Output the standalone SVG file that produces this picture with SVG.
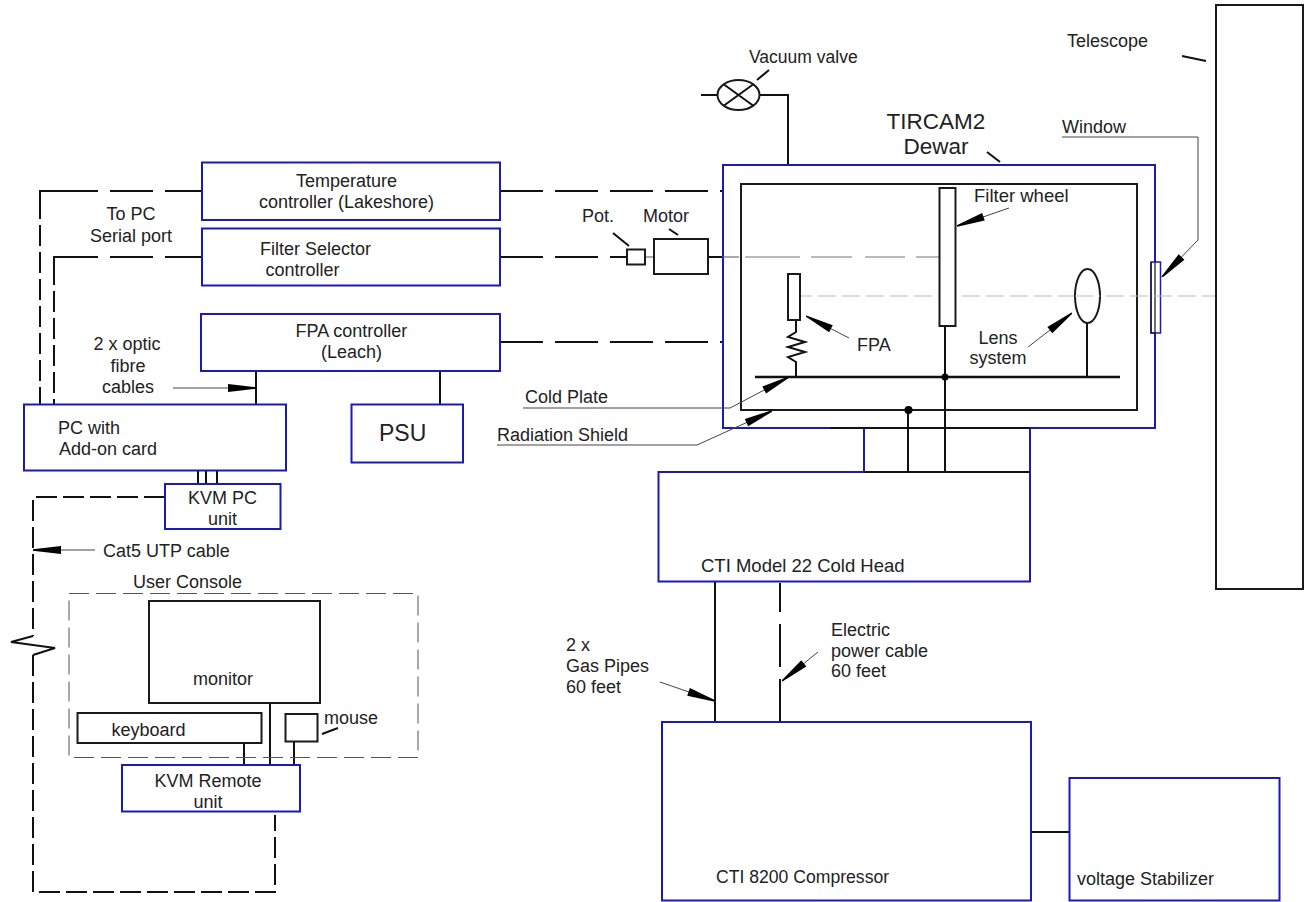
<svg xmlns="http://www.w3.org/2000/svg" width="1304" height="902" viewBox="0 0 1304 902">
<style>
text{font-family:"Liberation Sans",Arial,sans-serif;font-size:18px;fill:#222}
.m{text-anchor:middle}
.b{fill:#fff;stroke:#1a1ab8;stroke-width:2}
.k{fill:#fff;stroke:#1a1a1a;stroke-width:2}
.l{fill:none;stroke:#111;stroke-width:2}
.d{fill:none;stroke:#111;stroke-width:2;stroke-dasharray:21 6}
.t{fill:none;stroke:#555;stroke-width:1}
.a{fill:none;stroke:#444;stroke-width:1;marker-end:url(#h)}
.f{fill:none;stroke:#555;stroke-width:1;stroke-dasharray:20 7}
.c{fill:none;stroke:#bbb;stroke-width:1.2;stroke-dasharray:18 6}
</style>
<defs>
<marker id="h" viewBox="0 0 30 9" refX="30" refY="4.500" markerWidth="30" markerHeight="9" markerUnits="userSpaceOnUse" orient="auto"><path d="M2,0.500L30,3.800V5.200L2,8.500z" fill="#000"/></marker>
</defs>
<rect width="1304" height="902" fill="#fff"/>

<g id="connectors">
<path class="l" d="M202,191H165M153,191H110M98,191H40V198"/>
<path class="d" d="M40,198V404"/>
<path class="l" d="M202,257H165M153,257H110M98,257H54V264"/>
<path class="d" d="M54,264V404"/>
<path class="l" d="M500,191H543M555,191H598M610,191H653M665,191H708M720,191H723"/>
<path class="l" d="M500,257H543M555,257H598M610,257H627"/>
<path class="l" d="M500,342H543M555,342H598M610,342H653M665,342H708M720,342H723"/>
<path class="t" d="M645,257H654"/>
<path class="l" d="M708,257H722"/>
<path class="l" d="M256,371V404M440,371V404"/>
<path class="l" d="M198,471V484M206,471V484M217,471V484"/>
<path class="d" d="M165,497H33V636"/>
<path class="l" d="M33,636L11,642L55,648L33,655"/>
<path class="d" d="M33,655V892H275V815"/>
<path class="l" d="M244,743V765M270,703V765M294,741V765"/>
<path class="l" d="M701,95H717M760,95H788V165"/>
<path class="l" d="M757,80L769,70"/>
<path class="l" d="M987,152L1000,162"/>
<path class="l" d="M1182,56L1206,61"/>
<path class="l" d="M613,233L629,246M669,229L678,235M322,734L338,728"/>
<path class="l" d="M715,582V722"/>
<path class="l" d="M780,583V612M780,624V667M780,679V722"/>
<path class="l" d="M1031,832H1070"/>
</g>

<g id="telescope"><rect class="k" x="1216" y="5" width="87" height="584"/><text x="1067" y="47">Telescope</text></g>

<g id="dewar">
<rect class="b" x="723" y="165" width="432" height="263"/>
<path class="l" d="M830,428H1030"/>
<rect class="k" x="741" y="184" width="396" height="226"/>
<text class="m" x="936" y="129" style="font-size:22.500px">TIRCAM2</text>
<text class="m" x="936" y="154" style="font-size:22.500px">Dewar</text>
</g>

<g id="window-part"><rect x="1151" y="262" width="9.500" height="71" fill="#fff" stroke="#1a1ab8" stroke-width="1.500"/><path class="l" d="M1155,262V333M1151,262V333H1155" style="stroke-width:1.200"/></g>

<g id="cold-head">
<path fill="none" stroke="#1a1ab8" stroke-width="2" d="M864,472H658.500V581.500H1030V428"/>
<path class="l" d="M864,472H1030"/>
<path fill="none" stroke="#1a1ab8" stroke-width="2" d="M864,428V472"/>
<text x="701" y="572" style="font-size:18.500px">CTI Model 22 Cold Head</text>
</g>

<g id="internals">
<path class="t" d="M722,257H739" />
<path class="t" d="M745,257H800M811,257H852M865,257H905M916,257H939" style="stroke:#777"/>
<path class="c" d="M794,296H1215"/>
<path class="l" d="M755,377H1120" style="stroke-width:2.500"/>
<path class="l" d="M945,326V472M908,410V472M1087,323V377"/>
<path class="l" d="M796,320V332L788,337L805,342L788,347L805,352L788,357L796,362V377"/>
<circle cx="945" cy="377" r="3.500" fill="#000"/>
<circle cx="908.500" cy="410" r="4" fill="#000"/>
</g>
<g id="filter-wheel"><rect class="k" x="939.500" y="188" width="16" height="138"/><text x="974" y="202" style="font-size:18.500px">Filter wheel</text></g>
<g id="fpa"><rect class="k" x="788" y="274" width="12" height="46"/><text x="857" y="351">FPA</text></g>
<g id="lens"><ellipse class="k" cx="1087.500" cy="296" rx="12.500" ry="27"/><text class="m" x="998" y="344">Lens</text><text class="m" x="998" y="364">system</text></g>
<path class="c" d="M1075,296H1100"/>

<g id="valve">
<ellipse class="k" cx="738.500" cy="95" rx="21" ry="15"/>
<path class="l" d="M724,84.500L753,105.500M753,84.500L724,105.500"/>
<text x="749" y="63" style="font-size:17.500px">Vacuum valve</text>
</g>

<g id="temp-controller"><rect class="b" x="202" y="162.500" width="298" height="57.500"/><text class="m" x="346.500" y="187">Temperature</text><text class="m" x="346.500" y="208">controller (Lakeshore)</text></g>
<g id="filter-controller"><rect class="b" x="202" y="228.500" width="298" height="57"/><text x="260" y="255">Filter Selector</text><text x="265.500" y="276">controller</text></g>
<g id="fpa-controller"><rect class="b" x="201" y="314" width="299" height="57"/><text x="295.500" y="337">FPA controller</text><text class="m" x="351.500" y="358">(Leach)</text></g>
<g id="pc"><rect class="b" x="24" y="404.500" width="262" height="66"/><text x="58" y="434">PC with</text><text x="59" y="455">Add-on card</text></g>
<g id="psu"><rect class="b" x="351.500" y="404.500" width="111.500" height="58"/><text x="379" y="441" style="font-size:23px">PSU</text></g>
<g id="kvm-pc"><rect class="b" x="165" y="484" width="115.500" height="45"/><text class="m" x="222.500" y="504">KVM PC</text><text class="m" x="222.500" y="525">unit</text></g>
<g id="pot"><rect class="k" x="627" y="249.500" width="18" height="15"/><text x="582" y="222">Pot.</text></g>
<g id="motor"><rect class="k" x="654" y="239" width="54" height="35"/><text x="643" y="222">Motor</text></g>

<g id="user-console"><rect class="f" x="69" y="593.500" width="349" height="164"/><text x="133" y="588">User Console</text></g>
<g id="monitor"><rect class="k" x="149" y="601" width="171" height="102"/><text x="193" y="685">monitor</text></g>
<g id="keyboard"><rect class="k" x="77.500" y="713" width="184" height="30"/><text x="111.500" y="736">keyboard</text></g>
<g id="mouse"><rect class="k" x="285.500" y="714" width="32" height="27.500"/><text x="324" y="724">mouse</text></g>
<g id="kvm-remote"><rect class="b" x="122" y="765" width="178" height="46.500"/><text class="m" x="208" y="787">KVM Remote</text><text class="m" x="208" y="808">unit</text></g>

<g id="compressor"><rect class="b" x="662" y="722" width="369" height="178.500"/><text x="716" y="883" style="font-size:17.600px">CTI 8200 Compressor</text></g>
<g id="stabilizer"><rect class="b" x="1069.500" y="778" width="210" height="122.500"/><text x="1077" y="885">voltage Stabilizer</text></g>

<g id="leaders">
<path class="a" d="M1009,208L957,226"/>
<path class="a" d="M849,338L806,316"/>
<path class="a" d="M1028,347L1072,313"/>
<path class="a" d="M1062,137H1198V240L1162,277"/>
<path class="a" d="M523,408H730L789,377"/>
<path class="a" d="M497,445H697L772,411"/>
<path class="a" d="M173,388H256"/>
<path class="a" d="M95,550H33"/>
<path class="a" d="M660,682L715,701"/>
<path class="a" d="M818,652L782,681"/>
</g>

<g id="labels">
<text x="1062" y="133">Window</text>
<text class="m" x="131" y="220">To PC</text>
<text class="m" x="131" y="242">Serial port</text>
<text class="m" x="127" y="350">2 x optic</text>
<text class="m" x="128" y="372">fibre</text>
<text class="m" x="128" y="393">cables</text>
<text x="525" y="403">Cold Plate</text>
<text x="497" y="441">Radiation Shield</text>
<text x="103" y="557">Cat5 UTP cable</text>
<text x="566" y="651">2 x</text>
<text x="566" y="672">Gas Pipes</text>
<text x="566" y="693">60 feet</text>
<text x="831" y="636">Electric</text>
<text x="831" y="657">power cable</text>
<text x="831" y="677">60 feet</text>
</g>
</svg>
